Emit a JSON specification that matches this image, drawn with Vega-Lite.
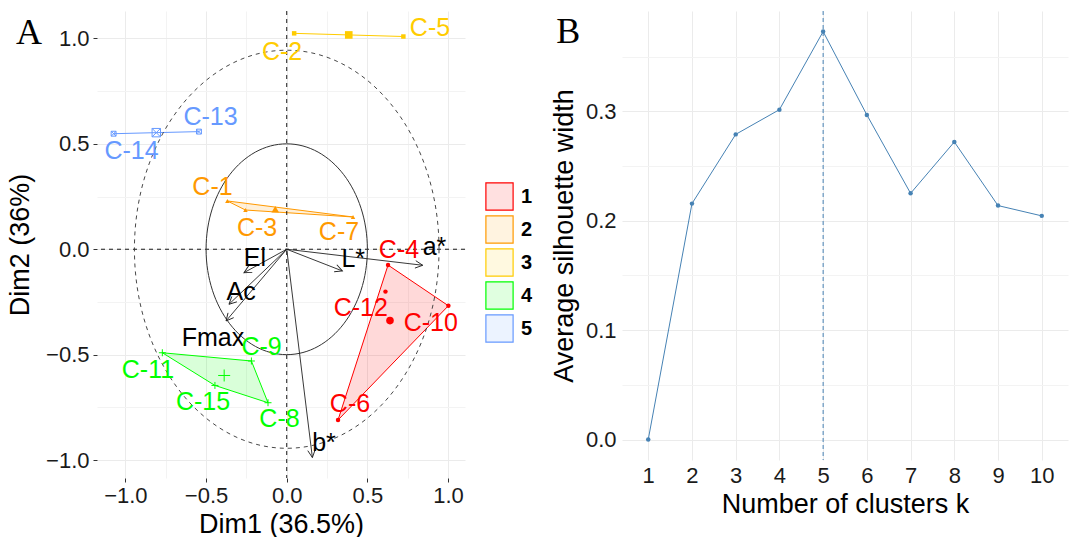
{
  "$schema": "https://vega.github.io/schema/vega-lite/v6.json",
  "background": "white",
  "padding": {"left": 6, "top": 10, "right": 2, "bottom": 0},
  "bounds": "flush",
  "spacing": 157,
  "config": {
    "view": {"stroke": null},
    "font": "Liberation Sans",
    "axis": {
      "labelFont": "Liberation Sans",
      "labelFontSize": 22,
      "labelColor": "#1A1A1A",
      "titleFont": "Liberation Sans",
      "titleFontSize": 27,
      "titleFontWeight": "normal",
      "titleColor": "#000000",
      "gridWidth": 1,
      "labelFlush": false,
      "labelOverlap": false
    }
  },
  "datasets": {
    "points": [
      {"name": "C-1", "cluster": 2, "x": -0.368, "y": 0.229, "lx": -0.46, "ly": 0.296},
      {"name": "C-2", "cluster": 3, "x": 0.046, "y": 1.024, "lx": -0.029, "ly": 0.936},
      {"name": "C-3", "cluster": 2, "x": -0.256, "y": 0.186, "lx": -0.184, "ly": 0.099},
      {"name": "C-4", "cluster": 1, "x": 0.628, "y": -0.075, "lx": 0.696, "ly": -0.003},
      {"name": "C-5", "cluster": 3, "x": 0.723, "y": 1.009, "lx": 0.888, "ly": 1.047},
      {"name": "C-6", "cluster": 1, "x": 0.318, "y": -0.81, "lx": 0.392, "ly": -0.734},
      {"name": "C-7", "cluster": 2, "x": 0.411, "y": 0.153, "lx": 0.324, "ly": 0.08},
      {"name": "C-8", "cluster": 4, "x": -0.116, "y": -0.728, "lx": -0.045, "ly": -0.807},
      {"name": "C-9", "cluster": 4, "x": -0.219, "y": -0.53, "lx": -0.156, "ly": -0.463},
      {"name": "C-10", "cluster": 1, "x": 1.002, "y": -0.268, "lx": 0.893, "ly": -0.35},
      {"name": "C-11", "cluster": 4, "x": -0.771, "y": -0.491, "lx": -0.86, "ly": -0.573},
      {"name": "C-12", "cluster": 1, "x": 0.612, "y": -0.201, "lx": 0.459, "ly": -0.278},
      {"name": "C-13", "cluster": 5, "x": -0.544, "y": 0.558, "lx": -0.472, "ly": 0.628},
      {"name": "C-14", "cluster": 5, "x": -1.073, "y": 0.548, "lx": -0.962, "ly": 0.464},
      {"name": "C-15", "cluster": 4, "x": -0.445, "y": -0.646, "lx": -0.519, "ly": -0.725}
    ],
    "hull": [
      {"cluster": 1, "ord": 1, "x": 0.628, "y": -0.075},
      {"cluster": 1, "ord": 2, "x": 1.002, "y": -0.268},
      {"cluster": 1, "ord": 3, "x": 0.318, "y": -0.81},
      {"cluster": 1, "ord": 4, "x": 0.628, "y": -0.075},
      {"cluster": 2, "ord": 1, "x": -0.368, "y": 0.229},
      {"cluster": 2, "ord": 2, "x": 0.411, "y": 0.153},
      {"cluster": 2, "ord": 3, "x": -0.256, "y": 0.186},
      {"cluster": 2, "ord": 4, "x": -0.368, "y": 0.229},
      {"cluster": 3, "ord": 1, "x": 0.046, "y": 1.024},
      {"cluster": 3, "ord": 2, "x": 0.723, "y": 1.009},
      {"cluster": 4, "ord": 1, "x": -0.771, "y": -0.491},
      {"cluster": 4, "ord": 2, "x": -0.219, "y": -0.53},
      {"cluster": 4, "ord": 3, "x": -0.116, "y": -0.728},
      {"cluster": 4, "ord": 4, "x": -0.445, "y": -0.646},
      {"cluster": 4, "ord": 5, "x": -0.771, "y": -0.491},
      {"cluster": 5, "ord": 1, "x": -1.073, "y": 0.548},
      {"cluster": 5, "ord": 2, "x": -0.544, "y": 0.558}
    ],
    "vars": [
      {"name": "a*", "x": 0.843, "y": -0.076, "lx": 0.916, "ly": 0.011},
      {"name": "L*", "x": 0.345, "y": -0.103, "lx": 0.412, "ly": -0.045},
      {"name": "El", "x": -0.265, "y": -0.111, "lx": -0.197, "ly": -0.041},
      {"name": "Ac", "x": -0.358, "y": -0.261, "lx": -0.283, "ly": -0.203},
      {"name": "Fmax", "x": -0.376, "y": -0.34, "lx": -0.457, "ly": -0.421},
      {"name": "b*", "x": 0.159, "y": -0.988, "lx": 0.231, "ly": -0.919}
    ],
    "sil": [
      {"k": 1, "width": 0.0},
      {"k": 2, "width": 0.2157},
      {"k": 3, "width": 0.279},
      {"k": 4, "width": 0.3016},
      {"k": 5, "width": 0.373},
      {"k": 6, "width": 0.2968},
      {"k": 7, "width": 0.2251},
      {"k": 8, "width": 0.2721},
      {"k": 9, "width": 0.2139},
      {"k": 10, "width": 0.2045}
    ],
    "panelA": [{"tag": "A", "x": -1.678, "y": 0.975}],
    "panelB": [{"tag": "B", "k": -1.105, "width": 0.3626}]
  },
  "hconcat": [
    {
      "width": 368,
      "height": 467,
      "layer": [
        {
          "data": {"name": "hull"},
          "mark": {"type": "line", "fillOpacity": 0.15, "strokeWidth": 1},
          "encoding": {
            "x": {"field": "x", "type": "quantitative",
              "scale": {"domain": [-1.176, 1.105], "nice": false, "zero": false},
              "axis": {"title": "Dim1 (36.5%)", "values": [-1, -0.75, -0.5, -0.25, 0, 0.25, 0.5, 0.75, 1],
                "labelExpr": "round(datum.value*4)%2===0 ? format(datum.value,'.1f') : ''",
                "domain": false, "tickSize": 4,
                "tickColor": {"condition": {"test": "round(datum.value*4)%2===0", "value": "#333333"}, "value": "transparent"},
                "gridColor": {"condition": {"test": "round(datum.value*4)%2===0", "value": "#EBEBEB"}, "value": "#F3F3F3"},
                "labelPadding": 3, "titlePadding": 5}},
            "y": {"field": "y", "type": "quantitative",
              "scale": {"domain": [-1.085, 1.13], "nice": false, "zero": false},
              "axis": {"title": "Dim2 (36%)", "values": [-1, -0.75, -0.5, -0.25, 0, 0.25, 0.5, 0.75, 1],
                "labelExpr": "round(datum.value*4)%2===0 ? format(datum.value,'.1f') : ''",
                "domain": false, "tickSize": 4,
                "tickColor": {"condition": {"test": "round(datum.value*4)%2===0", "value": "#333333"}, "value": "transparent"},
                "gridColor": {"condition": {"test": "round(datum.value*4)%2===0", "value": "#EBEBEB"}, "value": "#F3F3F3"},
                "labelPadding": 4, "titlePadding": 11}},
            "order": {"field": "ord", "type": "quantitative"},
            "stroke": {"field": "cluster", "type": "nominal",
              "scale": {"domain": [1, 2, 3, 4, 5], "range": ["#FF0000", "#FF9900", "#FFCC00", "#00FF00", "#6699FF"]},
              "legend": {"title": null, "orient": "none", "legendX": 388, "legendY": 171, "symbolType": "square", "symbolSize": 740, "symbolStrokeWidth": 1.2, "labelFont": "Liberation Sans", "labelFontSize": 20, "labelFontWeight": "bold", "labelColor": "#000000", "labelOffset": 7, "rowPadding": 0, "padding": 0,
                "encode": {"symbols": {"update": {"fillOpacity": {"value": 0.12}, "shape": {"value": "square"}}}}}},
            "fill": {"field": "cluster", "type": "nominal",
              "scale": {"domain": [1, 2, 3, 4, 5], "range": ["#FF0000", "#FF9900", "#FFCC00", "#00FF00", "#6699FF"]},
              "legend": {"title": null, "orient": "none", "legendX": 388, "legendY": 171, "symbolType": "square", "symbolSize": 740, "symbolStrokeWidth": 1.2, "labelFont": "Liberation Sans", "labelFontSize": 20, "labelFontWeight": "bold", "labelColor": "#000000", "labelOffset": 7, "rowPadding": 0, "padding": 0,
                "encode": {"symbols": {"update": {"fillOpacity": {"value": 0.12}, "shape": {"value": "square"}}}}}}
          }
        },
        {
          "data": {"values": [{}]},
          "mark": {"type": "rule", "color": "#000000", "strokeDash": [4, 4], "strokeWidth": 0.9},
          "encoding": {"x": {"datum": 0, "type": "quantitative"}}
        },
        {
          "data": {"values": [{}]},
          "mark": {"type": "rule", "color": "#000000", "strokeDash": [4, 4], "strokeWidth": 0.9},
          "encoding": {"y": {"datum": 0, "type": "quantitative"}}
        },
        {
          "data": {"values": [{}]},
          "mark": {"type": "point", "shape": "M1,0C1,0.7218,0.5523,1.3069,0,1.3069C-0.5523,1.3069,-1,0.7218,-1,0C-1,-0.7218,-0.5523,-1.3069,0,-1.3069C0.5523,-1.3069,1,-0.7218,1,0Z", "size": 92781, "filled": false, "color": "#333333", "strokeWidth": 0.9, "strokeDash": [4, 4], "opacity": 1},
          "encoding": {"x": {"datum": 0, "type": "quantitative"}, "y": {"datum": 0, "type": "quantitative"}}
        },
        {
          "data": {"values": [{}]},
          "mark": {"type": "point", "shape": "M1,0C1,0.7218,0.5523,1.3069,0,1.3069C-0.5523,1.3069,-1,0.7218,-1,0C-1,-0.7218,-0.5523,-1.3069,0,-1.3069C0.5523,-1.3069,1,-0.7218,1,0Z", "size": 26018, "filled": false, "color": "#333333", "strokeWidth": 1, "opacity": 1},
          "encoding": {"x": {"datum": 0, "type": "quantitative"}, "y": {"datum": 0, "type": "quantitative"}}
        },
        {
          "data": {"name": "vars"},
          "mark": {"type": "rule", "color": "#222222", "strokeWidth": 0.9},
          "encoding": {
            "x": {"field": "x", "type": "quantitative"},
            "y": {"field": "y", "type": "quantitative"},
            "x2": {"datum": 0},
            "y2": {"datum": 0}
          }
        },
        {
          "data": {"name": "vars"},
          "transform": [{"calculate": "90 - atan2(datum.y * 210.8, datum.x * 161.3) * 180 / PI", "as": "ang"}],
          "mark": {"type": "point", "shape": "M-0.5,1L0,0L0.5,1", "size": 220, "filled": false, "color": "#222222", "strokeWidth": 0.9, "opacity": 1},
          "encoding": {
            "x": {"field": "x", "type": "quantitative"},
            "y": {"field": "y", "type": "quantitative"},
            "angle": {"field": "ang", "type": "quantitative", "scale": null}
          }
        },
        {
          "data": {"name": "vars"},
          "mark": {"type": "text", "font": "Liberation Sans", "fontSize": 25, "color": "#000000", "align": "center", "baseline": "middle"},
          "encoding": {
            "x": {"field": "lx", "type": "quantitative"},
            "y": {"field": "ly", "type": "quantitative"},
            "text": {"field": "name"}
          }
        },
        {
          "data": {"name": "points"},
          "transform": [{"filter": "datum.cluster <= 3"}],
          "mark": {"type": "point", "filled": true, "size": 20, "opacity": 1},
          "encoding": {
            "x": {"field": "x", "type": "quantitative"},
            "y": {"field": "y", "type": "quantitative"},
            "color": {"field": "cluster", "type": "nominal", "legend": null,
              "scale": {"domain": [1, 2, 3, 4, 5], "range": ["#FF0000", "#FF9900", "#FFCC00", "#00FF00", "#6699FF"]}},
            "shape": {"field": "cluster", "type": "nominal", "legend": null,
              "scale": {"domain": [1, 2, 3, 4, 5, 6], "range": ["circle", "triangle-up", "square", "M-1,0L1,0M0,-1L0,1", "M-0.7,-0.7L0.7,-0.7L0.7,0.7L-0.7,0.7ZM-0.7,-0.7L0.7,0.7M-0.7,0.7L0.7,-0.7", "diamond"]}}
          }
        },
        {
          "data": {"name": "points"},
          "transform": [{"filter": "datum.cluster > 3"}],
          "mark": {"type": "point", "filled": false, "size": 49, "strokeWidth": 1, "opacity": 1},
          "encoding": {
            "x": {"field": "x", "type": "quantitative"},
            "y": {"field": "y", "type": "quantitative"},
            "color": {"field": "cluster", "type": "nominal", "legend": null},
            "shape": {"field": "cluster", "type": "nominal", "legend": null}
          }
        },
        {
          "data": {"name": "points"},
          "transform": [
            {"aggregate": [{"op": "mean", "field": "x", "as": "x"}, {"op": "mean", "field": "y", "as": "y"}], "groupby": ["cluster"]},
            {"filter": "datum.cluster <= 3"}
          ],
          "mark": {"type": "point", "filled": true, "size": 58, "opacity": 1},
          "encoding": {
            "x": {"field": "x", "type": "quantitative"},
            "y": {"field": "y", "type": "quantitative"},
            "color": {"field": "cluster", "type": "nominal", "legend": null},
            "shape": {"field": "cluster", "type": "nominal", "legend": null}
          }
        },
        {
          "data": {"name": "points"},
          "transform": [
            {"aggregate": [{"op": "mean", "field": "x", "as": "x"}, {"op": "mean", "field": "y", "as": "y"}], "groupby": ["cluster"]},
            {"filter": "datum.cluster > 3"}
          ],
          "mark": {"type": "point", "filled": false, "size": 144, "strokeWidth": 1, "opacity": 1},
          "encoding": {
            "x": {"field": "x", "type": "quantitative"},
            "y": {"field": "y", "type": "quantitative"},
            "color": {"field": "cluster", "type": "nominal", "legend": null},
            "shape": {"field": "cluster", "type": "nominal", "legend": null}
          }
        },
        {
          "data": {"name": "points"},
          "mark": {"type": "text", "font": "Liberation Sans", "fontSize": 25, "align": "center", "baseline": "middle"},
          "encoding": {
            "x": {"field": "lx", "type": "quantitative"},
            "y": {"field": "ly", "type": "quantitative"},
            "text": {"field": "name"},
            "color": {"field": "cluster", "type": "nominal", "legend": null}
          }
        },
        {
          "data": {"name": "panelA"},
          "mark": {"type": "text", "font": "Liberation Serif", "fontSize": 36, "color": "#000000", "align": "left", "baseline": "alphabetic", "clip": false},
          "encoding": {
            "x": {"field": "x", "type": "quantitative"},
            "y": {"field": "y", "type": "quantitative"},
            "text": {"field": "tag"}
          }
        }
      ]
    },
    {
      "width": 446,
      "height": 449,
      "layer": [
        {
          "data": {"name": "sil"},
          "mark": {"type": "line", "color": "#4682B4", "strokeWidth": 1},
          "encoding": {
            "x": {"field": "k", "type": "quantitative",
              "scale": {"domain": [0.4, 10.6], "nice": false, "zero": false},
              "axis": {"title": "Number of clusters k", "values": [1, 2, 3, 4, 5, 6, 7, 8, 9, 10], "format": "d", "labelAngle": 0, "ticks": false, "domain": false, "grid": true, "gridColor": "#EBEBEB", "labelPadding": 5, "titlePadding": 5}},
            "y": {"field": "width", "type": "quantitative",
              "scale": {"domain": [-0.0187, 0.3918], "nice": false, "zero": false},
              "axis": {"title": "Average silhouette width", "values": [0, 0.05, 0.1, 0.15, 0.2, 0.25, 0.3, 0.35],
                "labelExpr": "round(datum.value*20)%2===0 ? format(datum.value,'.1f') : ''",
                "ticks": false, "domain": false,
                "gridColor": {"condition": {"test": "round(datum.value*20)%2===0", "value": "#EBEBEB"}, "value": "#F3F3F3"},
                "labelPadding": 6, "titlePadding": 7}}
          }
        },
        {
          "data": {"values": [{}]},
          "mark": {"type": "rule", "color": "#4682B4", "strokeDash": [4, 3], "strokeWidth": 1},
          "encoding": {"x": {"datum": 5, "type": "quantitative"}}
        },
        {
          "data": {"name": "sil"},
          "mark": {"type": "point", "filled": true, "color": "#4682B4", "size": 20, "opacity": 1},
          "encoding": {
            "x": {"field": "k", "type": "quantitative"},
            "y": {"field": "width", "type": "quantitative"}
          }
        },
        {
          "data": {"name": "panelB"},
          "mark": {"type": "text", "font": "Liberation Serif", "fontSize": 36, "color": "#000000", "align": "left", "baseline": "alphabetic", "clip": false},
          "encoding": {
            "x": {"field": "k", "type": "quantitative"},
            "y": {"field": "width", "type": "quantitative"},
            "text": {"field": "tag"}
          }
        }
      ]
    }
  ]
}
